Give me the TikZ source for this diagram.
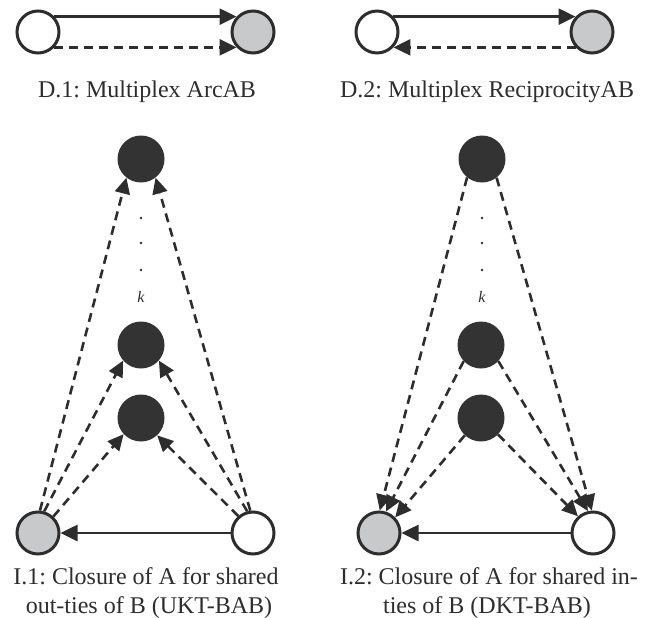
\documentclass[tikz,border=0pt]{standalone}
\usepackage{fontspec}
\setmainfont{Liberation Serif}
\usetikzlibrary{arrows.meta}
\definecolor{ink}{RGB}{45,45,45}
\definecolor{darkfill}{RGB}{51,51,51}
\definecolor{grayfill}{RGB}{200,201,203}
\begin{document}
\frenchspacing
\begin{tikzpicture}[x=1pt,y=-1pt,
  wnode/.style={circle,draw=ink,fill=white,line width=3pt,minimum size=42pt,inner sep=0pt},
  gnode/.style={wnode,fill=grayfill},
  bnode/.style={circle,fill=darkfill,minimum size=47pt,inner sep=0pt},
  edge/.style={draw=ink,line width=2.6pt,-{Triangle[length=17pt,width=16pt]}},
  dedge/.style={edge,dash pattern=on 9pt off 6pt,-{Triangle[length=16pt,width=15pt]}},
  lab/.style={font=\fontsize{24}{29}\selectfont,text=ink,anchor=base,inner sep=0pt},
  kl/.style={font=\fontsize{16}{16}\selectfont\itshape,text=ink,anchor=base,inner sep=0pt},
  dotc/.style={fill=ink}
]
\useasboundingbox (0,0) rectangle (645,618);

% D.1
\node[wnode] (d1a) at (38,32) {};
\node[gnode] (d1b) at (253,32) {};
\draw[edge] (d1a.43) -- (d1b.137);
\draw[dedge,-{Triangle[length=17pt,width=16pt]}] (d1a.-43) -- (d1b.-137);
\node[lab] (d1cap) at (147,97) {D.1: Multiplex ArcAB};

% D.2
\node[wnode] (d2a) at (377,32) {};
\node[gnode] (d2b) at (592,32) {};
\draw[edge] (d2a.43) -- (d2b.137);
\draw[dedge,-{Triangle[length=17pt,width=16pt]}] (d2b.-137) -- (d2a.-43);
\node[lab] (d2cap) at (487,97) {D.2: Multiplex ReciprocityAB};

% I.1
\node[gnode] (i1a) at (38,533) {};
\node[wnode] (i1b) at (253,533) {};
\node[bnode] (i1t) at (141,159) {};
\node[bnode] (i1m) at (141,345) {};
\node[bnode] (i1lo) at (141,418) {};
\fill[dotc] (141,218) circle (1.3pt);
\fill[dotc] (141,243) circle (1.3pt);
\fill[dotc] (141,270) circle (1.3pt);
\node[kl] (i1k) at (141,302) {k};
\draw[edge] (i1b) -- (i1a);
\draw[dedge] (i1a.85) -- (i1t.-128);
\draw[dedge] (i1a.74) -- (i1m.-139);
\draw[dedge] (i1a.47) -- (i1lo.-137);
\draw[dedge] (i1b.97) -- (i1t.-52);
\draw[dedge] (i1b.105) -- (i1m.-41);
\draw[dedge] (i1b.131) -- (i1lo.-47);
\node[lab] (i1cap1) at (146,584) {I.1: Closure of A for shared};
\node[lab] (i1cap2) at (149,613) {out-ties of B (UKT-BAB)};

% I.2
\node[gnode] (i2a) at (379,533) {};
\node[wnode] (i2b) at (593,533) {};
\node[bnode] (i2t) at (482,159) {};
\node[bnode] (i2m) at (481,345) {};
\node[bnode] (i2lo) at (481,418) {};
\fill[dotc] (482,218) circle (1.3pt);
\fill[dotc] (482,243) circle (1.3pt);
\fill[dotc] (482,270) circle (1.3pt);
\node[kl] (i2k) at (482,302) {k};
\draw[edge] (i2b) -- (i2a);
\draw[dedge] (i2t.-129) -- (i2a.88);
\draw[dedge] (i2m.-137) -- (i2a.72);
\draw[dedge] (i2lo.-133) -- (i2a.44);
\draw[dedge] (i2t.-52) -- (i2b.93);
\draw[dedge] (i2m.-43) -- (i2b.103);
\draw[dedge] (i2lo.-44) -- (i2b.132);
\node[lab] (i2cap1) at (489,584) {I.2: Closure of A for shared in-};
\node[lab] (i2cap2) at (487,613) {ties of B (DKT-BAB)};
\end{tikzpicture}
\end{document}
